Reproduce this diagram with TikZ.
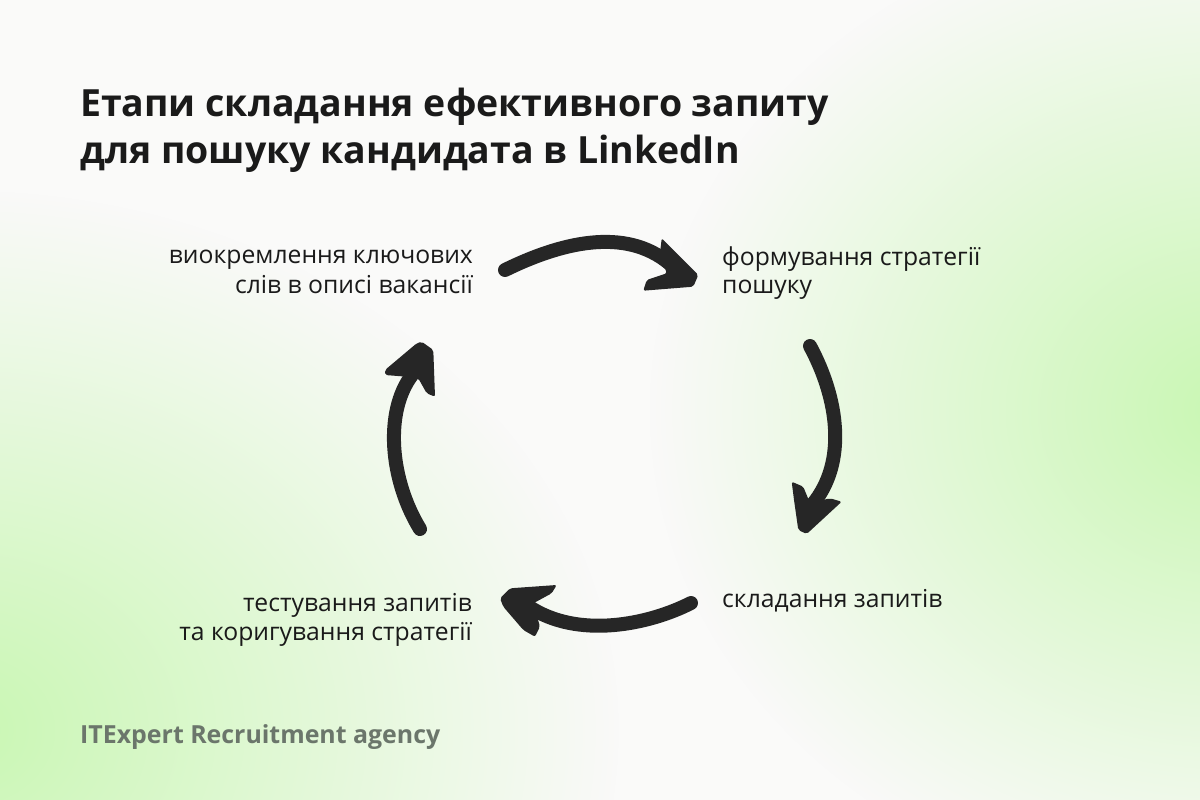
\documentclass[tikz,border=0pt]{standalone}
\usepackage{fontspec}
\setmainfont{Open Sans}
\usetikzlibrary{fadings}
\definecolor{bgcol}{HTML}{FAFAF9}
\definecolor{glow}{HTML}{C9F7B3}
\definecolor{ink}{HTML}{1A1A1A}
\definecolor{arrowcol}{HTML}{262626}
\definecolor{brand}{HTML}{6B766B}
\tikzfading[name=glowfade, inner color=transparent!0, outer color=transparent!100]
\tikzset{
  label/.style={inner sep=0pt, text=ink, font=\fontsize{24.8}{29}\selectfont},
  titletext/.style={inner sep=0pt, text=ink, font=\fontsize{37.6}{45}\selectfont\bfseries},
  shaft/.style={draw=arrowcol, line width=14bp, line cap=round},
  head/.style={fill=arrowcol, rounded corners=2bp},
}
\begin{document}
\begin{tikzpicture}[x=1bp, y=-1bp]
\useasboundingbox (0,0) rectangle (1200,800);
% background
\fill[bgcol] (0,0) rectangle (1200,800);
\begin{scope}
\clip (0,0) rectangle (1200,800);
\fill[glow, path fading=glowfade] (1230,410) ellipse [x radius=580, y radius=500];
\fill[glow, path fading=glowfade] (-40,730) ellipse [x radius=660, y radius=540];
\end{scope}

% title
\node[titletext, anchor=base west] (t1) at (80,117) {Етапи складання ефективного запиту};
\node[titletext, anchor=base west] (t2) at (80,163) {для пошуку кандидата в LinkedIn};

% labels
\node[label, anchor=base east] (a1) at (473,263.5) {виокремлення ключових};
\node[label, anchor=base east] (a2) at (473,293) {слів в описі вакансії};
\node[label, anchor=base west] (b1) at (722,265) {формування стратегії};
\node[label, anchor=base west] (b2) at (722,293.5) {пошуку};
\node[label, anchor=base west] (c1) at (722,607) {складання запитів};
\node[label, anchor=base east] (d1) at (472,611.5) {тестування запитів};
\node[label, anchor=base east] (d2) at (472,640) {та коригування стратегії};

\node[inner sep=0pt, anchor=base west, text=brand, font=\fontsize{25}{30}\selectfont\bfseries] (brandname) at (80,743.5) {ITExpert Recruitment agency};

% arrow 1 (top)
\coordinate (s1) at (505,270);
\coordinate (e1) at (670,264);
\draw[shaft] (s1) .. controls (560,243) and (625,226) .. (e1);
\fill[head] (661.7,238.3) -- (698.3,275) -- (693.3,286.7) -- (643.3,290.7) -- (646.7,280) -- (666.7,273.3) -- (660,253.3) -- cycle;

% arrow 2 (right)
\coordinate (s2) at (810,346);
\coordinate (e2) at (812,505);
\draw[shaft] (s2) .. controls (838,398) and (848,462) .. (e2);
\fill[head] (791.7,481.7) -- (803.3,486.7) -- (810,503.3) -- (830,498.3) -- (841.7,501.7) -- (806.7,534) -- (798.3,530) -- (794,500) -- cycle;

% arrow 3 (bottom)
\coordinate (s3) at (691,603);
\coordinate (e3) at (528,606);
\draw[shaft] (s3) .. controls (650,624) and (578,640) .. (e3);
\fill[head] (500,598.3) -- (510,588.3) -- (556.7,585) -- (551.7,593.3) -- (533.3,603.3) -- (540,626.7) -- (535,636.7) -- (523.3,630) -- (503.3,606.7) -- cycle;

% arrow 4 (left)
\coordinate (s4) at (420,529);
\coordinate (e4) at (412,375);
\draw[shaft] (s4) .. controls (390,480) and (384,412) .. (e4);
\fill[head] (421.7,341.7) -- (433.3,350) -- (435,396.7) -- (426.7,393.3) -- (418.3,378.3) -- (406.7,376.7) -- (385,375) -- (385,370) -- (416.7,343.3) -- cycle;
\end{tikzpicture}
\end{document}
